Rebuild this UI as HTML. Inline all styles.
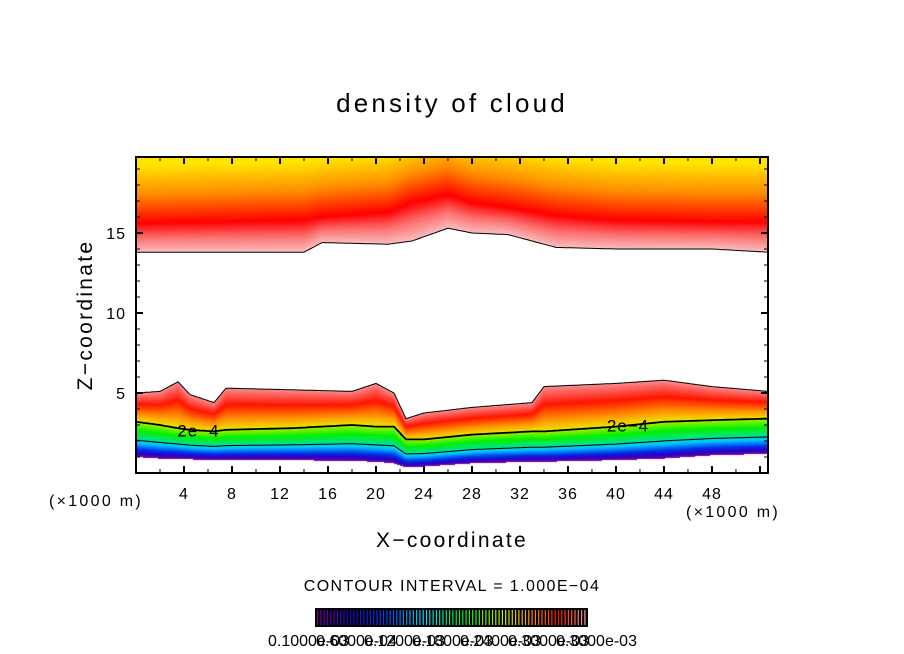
<!DOCTYPE html>
<html><head><meta charset="utf-8"><style>
body{margin:0;background:#fff;width:904px;height:654px;overflow:hidden;position:relative;font-family:"Liberation Sans",sans-serif}
#cv{position:absolute;left:136px;top:157px}
svg{position:absolute;left:0;top:0}
</style></head><body>
<canvas id="cv" width="632" height="316"></canvas>
<svg id="sv" width="904" height="654"></svg>
<script>
// ---- data ----
const topX=[0,14,15.5,21,23,26,28,31,35,40,48,52.7];
const topBound=[13.8,13.8,14.4,14.3,14.5,15.3,15.0,14.9,14.1,14.0,14.0,13.8];
const topRed=[15.6,15.8,16.0,16.3,16.9,17.4,16.9,16.6,16.1,15.8,15.7,15.7];
const botX=[0,2,3.5,4.5,6.5,7.5,13,18,20,21.5,22.5,24,28,33,34,40,44,48,52.7];
const botTop=[5.0,5.1,5.7,4.9,4.4,5.3,5.2,5.1,5.6,5.0,3.4,3.75,4.1,4.4,5.4,5.6,5.8,5.4,5.1];
const bot2e4=[3.2,3.0,2.8,2.7,2.6,2.7,2.8,3.0,2.9,2.9,2.1,2.1,2.4,2.6,2.6,2.9,3.2,3.3,3.4];
const botBase=[1.0,0.9,0.9,0.85,0.8,0.8,0.8,0.75,0.7,0.6,0.35,0.4,0.6,0.7,0.7,0.8,0.9,1.1,1.2];
const xTicks=[4,8,12,16,20,24,28,32,36,40,44,48];
const yTicks=[5,10,15];
const cbLabels=["0.1000e-03","0.6000e-04","0.1200e-03","0.1800e-03","0.2400e-03","0.3000e-03","0.3000e-03"];
// ---- axes ----
const L=136,T=157,W=632,H=316,XMAX=52.67,ZMAX=19.75;
const sx=x=>L+x/XMAX*W, sy=z=>T+H-z/ZMAX*H;
function interp(xa,ya,x){for(let i=0;i<xa.length-1;i++){if(x<=xa[i+1]){const t=(x-xa[i])/(xa[i+1]-xa[i]);return ya[i]+t*(ya[i+1]-ya[i]);}}return ya[ya.length-1];}
function ramp(stops,t){t=Math.max(0,Math.min(1,t));for(let i=0;i<stops.length-1;i++){if(t<=stops[i+1][0]){const a=stops[i],b=stops[i+1],u=(t-a[0])/(b[0]-a[0]);return [0,1,2].map(k=>a[1][k]+u*(b[1][k]-a[1][k]));}}return stops[stops.length-1][1];}
const sPink=[[0,[250,190,190]],[0.5,[252,110,110]],[1,[255,0,0]]];
const sUp=[[0,[255,0,0]],[0.5,[255,140,0]],[1,[255,228,0]]];
const sBand=[[0,[250,140,140]],[0.4,[255,20,0]],[0.75,[255,150,0]],[1,[235,230,0]]];
const sLow=[[0,[170,240,0]],[0.25,[0,240,0]],[0.45,[0,230,120]],[0.6,[0,200,255]],[0.78,[0,50,235]],[0.9,[40,0,190]],[1,[120,0,170]]];
const cv=document.getElementById('cv'),ctx=cv.getContext('2d'),img=ctx.createImageData(W,H);
for(let px=0;px<W;px++){const x=(px+0.5)/W*XMAX;
 const tb=interp(topX,topBound,x),tr=interp(topX,topRed,x),bt=interp(botX,botTop,x),b2=interp(botX,bot2e4,x),bb=interp(botX,botBase,x);
 for(let py=0;py<H;py++){const z=(H-py-0.5)/H*ZMAX;let c=[255,255,255];
  if(z>=tb){c=z<tr?ramp(sPink,(z-tb)/(tr-tb)):ramp(sUp,(z-tr)/3.6);}
  else if(z<=bt&&z>b2){c=ramp(sBand,(bt-z)/(bt-b2));}
  else if(z<=b2&&z>=bb){c=ramp(sLow,(b2-z)/(b2-bb));}
  const i=(py*W+px)*4;img.data[i]=c[0];img.data[i+1]=c[1];img.data[i+2]=c[2];img.data[i+3]=255;}}
ctx.putImageData(img,0,0);
// ---- svg overlay ----
const NS='http://www.w3.org/2000/svg',sv=document.getElementById('sv');
function el(tag,a,p){const e=document.createElementNS(NS,tag);for(const k in a)e.setAttribute(k,a[k]);(p||sv).appendChild(e);return e;}
function line(xa,ya,f,w,name){let pts=[];for(let px=0;px<=W;px+=2){const x=px/W*XMAX;pts.push((L+px)+','+sy(f(xa,ya,x)).toFixed(1));}
 const p=el('polyline',{points:pts.join(' '),fill:'none',stroke:'#000','stroke-width':w});
 
 }
line(topX,topBound,interp,1,'top-cloud-contour');
line(botX,botTop,interp,1,'low-cloud-top-contour');
line(botX,bot2e4,interp,1.8,'contour-2e-4');
line(botX,bot2e4,(xa,ya,x)=>{const b2=interp(botX,bot2e4,x),bb=interp(botX,botBase,x);return b2-0.52*(b2-bb);},1,'lower-contour');
[[5.2],[41]].forEach(([x])=>{const t=el('text',{x:sx(x),y:sy(interp(botX,bot2e4,x))+6,'font-size':17,'letter-spacing':1,'text-anchor':'middle',fill:'#000'});t.textContent='2e−4';
 
 });
// frame
const fr=el('rect',{x:L,y:T,width:W,height:H,fill:'none',stroke:'#000','stroke-width':2});


for(let x=2;x<XMAX;x+=2){const maj=x%4===0,len=maj?7:4;
 el('line',{x1:sx(x),x2:sx(x),y1:T+H,y2:T+H-len,stroke:'#000','stroke-width':maj?2:1});
 el('line',{x1:sx(x),x2:sx(x),y1:T,y2:T+len,stroke:'#000','stroke-width':maj?2:1});}
for(let z=1;z<ZMAX;z++){const maj=z%5===0,len=maj?7:4;
 el('line',{x1:L,x2:L+len,y1:sy(z),y2:sy(z),stroke:'#000','stroke-width':maj?2:1});
 el('line',{x1:L+W,x2:L+W-len,y1:sy(z),y2:sy(z),stroke:'#000','stroke-width':maj?2:1});}
xTicks.forEach(v=>{const t=el('text',{x:sx(v),y:499,'font-size':16,'letter-spacing':1,'text-anchor':'middle'});t.textContent=v;
 
 });
yTicks.forEach(v=>{const t=el('text',{x:126,y:sy(v)+6,'font-size':16,'letter-spacing':1,'text-anchor':'end'});t.textContent=v;
 
 });
function txt(s,a,name){const t=el('text',a);t.textContent=s;return t;}
txt('density of cloud',{x:452,y:112,'font-size':26,'letter-spacing':3.2,'text-anchor':'middle'},'chart-title');
txt('(×1000 m)',{x:96,y:506,'font-size':16,'letter-spacing':2.3,'text-anchor':'middle'},'x-unit-left');
txt('(×1000 m)',{x:733,y:517,'font-size':16,'letter-spacing':2.3,'text-anchor':'middle'},'x-unit-right');
txt('X−coordinate',{x:452,y:547,'font-size':21,'letter-spacing':2.3,'text-anchor':'middle'},'x-axis-title');
txt('Z−coordinate',{x:0,y:0,'font-size':21,'letter-spacing':2.3,'text-anchor':'middle',transform:'translate(92,315) rotate(-90)'},'y-axis-title');
txt('CONTOUR INTERVAL = 1.000E−04',{x:452,y:591,'font-size':16,'letter-spacing':1.4,'text-anchor':'middle'},'contour-interval');
// colorbar
const cb=el('rect',{x:315,y:608,width:273,height:19,fill:'#000'});


const cbStops=[[0,[120,0,170]],[0.12,[30,0,200]],[0.25,[0,60,255]],[0.4,[0,220,255]],[0.55,[0,240,40]],[0.7,[210,240,0]],[0.8,[255,150,0]],[0.9,[255,20,0]],[1,[255,150,150]]];
for(let i=0;i<82;i++){const c=ramp(cbStops,i/81);el('rect',{x:317+i*3.3,y:610,width:1.2,height:15,fill:'rgb('+c.map(Math.round).join(',')+')'});}
cbLabels.forEach((s,i)=>{txt(s,{x:268+i*48,y:646,'font-size':16},'colorbar-label');});
</script>
</body></html>
